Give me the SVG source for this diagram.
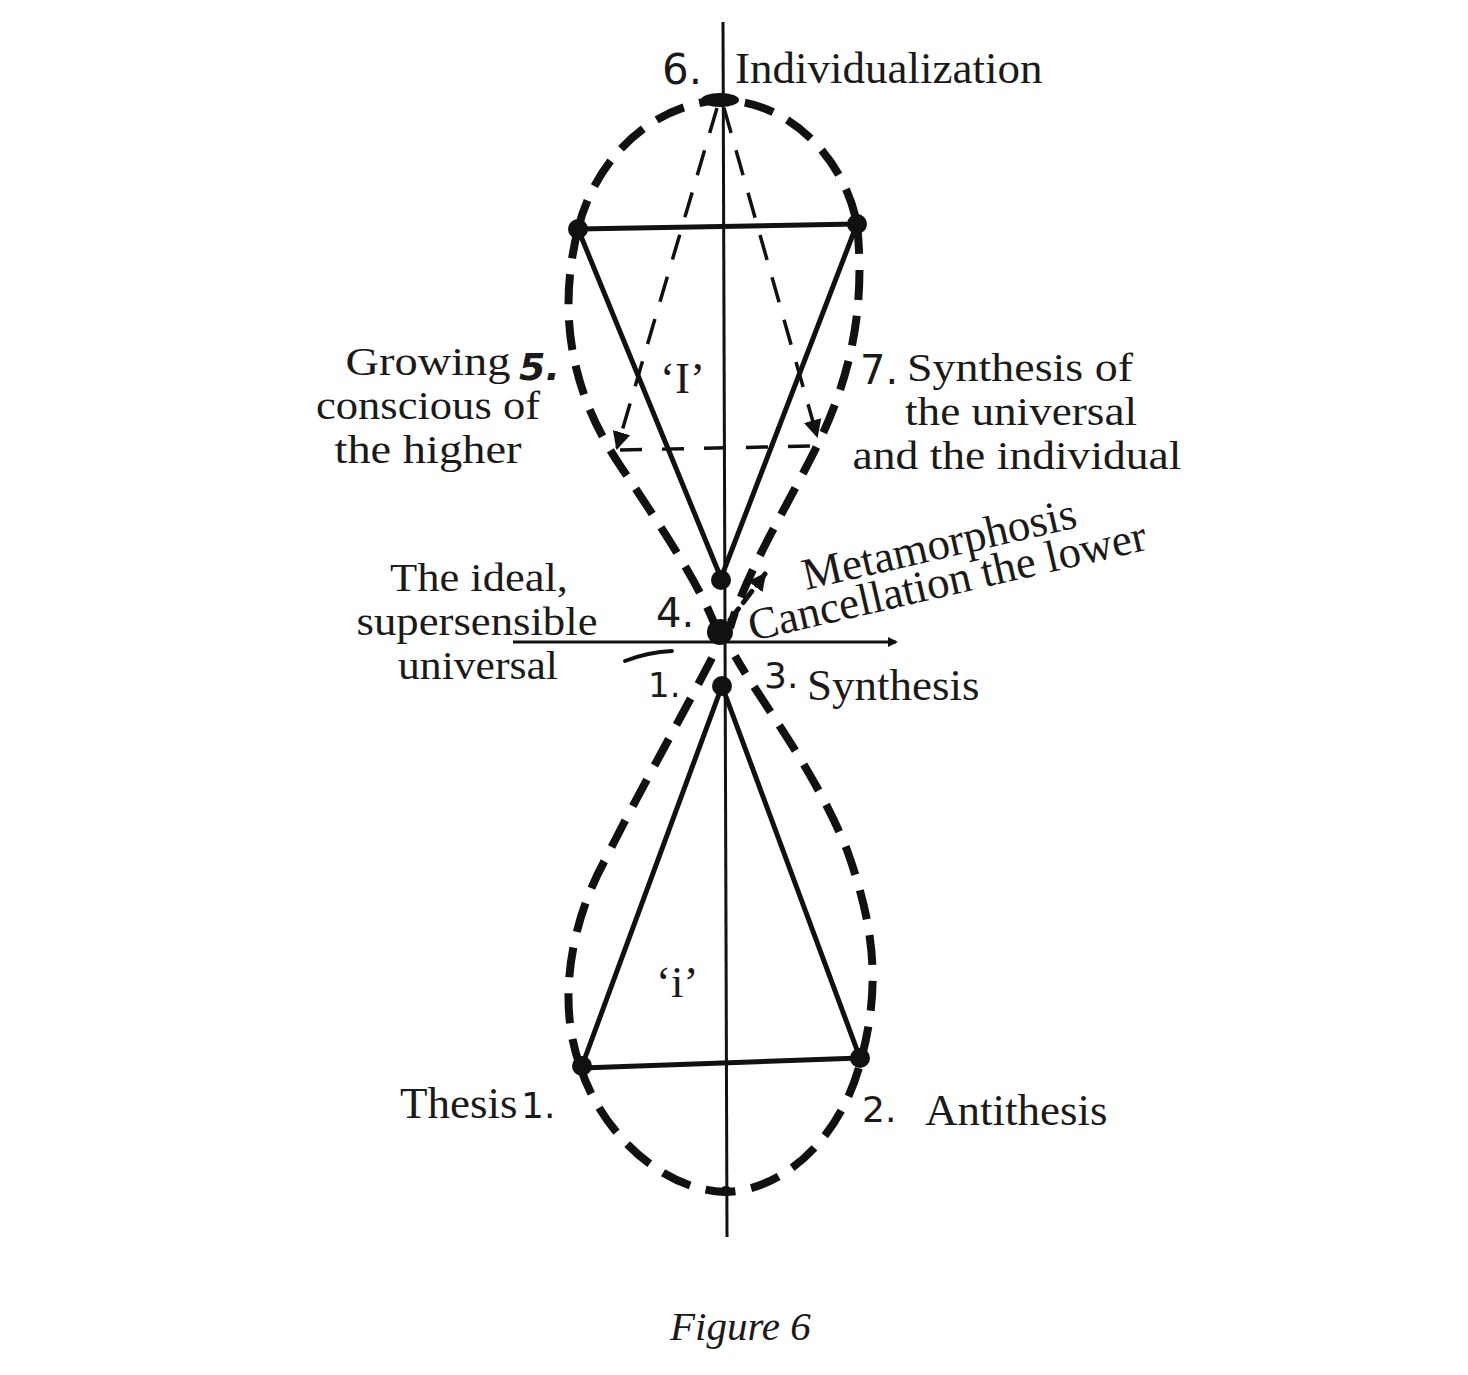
<svg xmlns="http://www.w3.org/2000/svg" width="1468" height="1375" viewBox="0 0 1468 1375">
<style>
.bg{fill:#fff}
.axis{stroke:#111;stroke-width:3;fill:none}
.solid{stroke:#111;stroke-width:5;fill:none;stroke-linecap:round}
.loop{stroke:#111;stroke-width:8;fill:none;stroke-dasharray:30 16}
.thin{stroke:#111;stroke-width:3.5;fill:none;stroke-dasharray:26 18}
.dot{fill:#111}
.t{font-family:"Liberation Serif","Times New Roman",serif;font-size:45px;fill:#1a1a1a}
.m{font-size:39.5px}
.c{text-anchor:middle}
.h{font-family:"DejaVu Sans","Liberation Sans",sans-serif;fill:#1a1a1a}
.fig{font-family:"Liberation Serif","Times New Roman",serif;font-size:41px;font-style:italic;fill:#1a1a1a}
</style>
<defs>
<marker id="ah" markerWidth="10" markerHeight="10" refX="8" refY="5" orient="auto" markerUnits="userSpaceOnUse">
<path d="M0,0 L10,5 L0,10 Z" fill="#111"/>
</marker>
<marker id="ahb" markerWidth="22" markerHeight="22" refX="16" refY="11" orient="auto" markerUnits="userSpaceOnUse">
<path d="M0,2 L18,11 L0,20 Z" fill="#111"/>
</marker>
</defs>
<rect class="bg" x="0" y="0" width="1468" height="1375"/>

<g id="connectors">
<line id="axis" class="axis" x1="723" y1="22" x2="727" y2="1237"/>
<line id="horizontal" class="axis" x1="513" y1="642" x2="896" y2="642" marker-end="url(#ah)"/>
<!-- upper triangle -->
<line class="solid" x1="578" y1="229" x2="857" y2="224"/>
<line class="solid" x1="578" y1="229" x2="721" y2="578"/>
<line class="solid" x1="857" y1="224" x2="721" y2="578"/>
<!-- lower triangle -->
<line class="solid" x1="582" y1="1068" x2="860" y2="1058"/>
<line class="solid" x1="722" y1="686" x2="582" y2="1066"/>
<line class="solid" x1="722" y1="686" x2="860" y2="1058"/>
<!-- upper loop -->
<path class="loop" d="M578,229 C595,160 650,105 720,100 C790,100 845,160 857,224"/>
<path class="loop" d="M578,229 C558,310 568,390 623,470 C660,525 700,585 716,628"/>
<path class="loop" d="M857,224 C866,310 850,380 815,450 C785,510 745,575 730,628"/>
<!-- lower loop -->
<path class="loop" d="M712,658 C680,720 640,790 605,860 C572,920 556,1000 580,1066"/>
<path class="loop" d="M580,1066 C600,1130 660,1190 725,1192 C790,1190 845,1130 862,1056"/>
<path class="loop" d="M862,1056 C882,980 872,920 847,850 C815,770 760,700 735,656"/>
<!-- thin dashed arrows from 6 -->
<line class="thin" x1="717" y1="108" x2="617" y2="448" marker-end="url(#ahb)"/>
<line class="thin" x1="724" y1="108" x2="817" y2="436" marker-end="url(#ahb)"/>
<line class="thin" x1="620" y1="450" x2="812" y2="446" style="stroke-dasharray:22 20"/>
<!-- metamorphosis arrow -->
<line class="solid" x1="730" y1="620" x2="765" y2="574" style="stroke-dasharray:14 8" marker-end="url(#ahb)"/>
<!-- small stroke -->
<path class="solid" d="M625,661 Q648,652 672,651" style="stroke-width:4"/>
</g>

<g id="node6">
<ellipse class="dot" cx="720" cy="100" rx="19" ry="7"/>
<text class="h" x="662" y="84" font-size="42">6.</text>
<text class="t" x="735" y="83">Individualization</text>
</g>
<g id="vertexUL"><circle class="dot" cx="578" cy="229" r="10"/></g>
<g id="vertexUR"><circle class="dot" cx="857" cy="224" r="10"/></g>
<g id="node5">
<text class="t m c" x="428" y="375" textLength="165" lengthAdjust="spacingAndGlyphs">Growing</text>
<text class="t m c" x="428" y="419" textLength="224" lengthAdjust="spacingAndGlyphs">conscious of</text>
<text class="t m c" x="428" y="463" textLength="187" lengthAdjust="spacingAndGlyphs">the higher</text>
<text class="h" x="519" y="380" font-size="38" font-weight="bold" font-style="italic">5.</text>
</g>
<g id="labelI"><text class="t" x="660" y="393" font-size="42">‘I’</text></g>
<g id="node7">
<text class="h" x="860" y="384" font-size="40">7.</text>
<text class="t m c" x="1020" y="381" textLength="226" lengthAdjust="spacingAndGlyphs">Synthesis of</text>
<text class="t m c" x="1021" y="425" textLength="232" lengthAdjust="spacingAndGlyphs">the universal</text>
<text class="t m c" x="1017" y="469" textLength="329" lengthAdjust="spacingAndGlyphs">and the individual</text>
</g>
<g id="node4">
<circle class="dot" cx="721" cy="580" r="10"/>
<circle class="dot" cx="720" cy="632" r="13"/>
<text class="h" x="656" y="627" font-size="40">4.</text>
<text class="t m c" x="479" y="591" textLength="178" lengthAdjust="spacingAndGlyphs">The ideal,</text>
<text class="t m c" x="477" y="635" textLength="241" lengthAdjust="spacingAndGlyphs">supersensible</text>
<text class="t m c" x="478" y="679" textLength="160" lengthAdjust="spacingAndGlyphs">universal</text>
</g>
<g id="metamorphosis">
<text class="t" transform="translate(806,590) rotate(-13)">Metamorphosis</text>
<text class="t" transform="translate(752,641) rotate(-13)">Cancellation the lower</text>
</g>
<g id="node3">
<circle class="dot" cx="722" cy="686" r="10"/>
<text class="h" x="648" y="697" font-size="34">1.</text>
<text class="h" x="764" y="688" font-size="36">3.</text>
<text class="t" x="807" y="700">Synthesis</text>
</g>
<g id="labeli"><text class="t" x="656" y="997" font-size="42">‘i’</text></g>
<g id="node1">
<circle class="dot" cx="582" cy="1066" r="10"/>
<text class="t" x="400" y="1118" font-size="43">Thesis</text>
<text class="h" x="521" y="1118" font-size="36">1.</text>
</g>
<g id="node2">
<circle class="dot" cx="860" cy="1058" r="10"/>
<text class="h" x="862" y="1122" font-size="36">2.</text>
<text class="t" x="925" y="1125">Antithesis</text>
</g>
<g id="bottom"><ellipse class="dot" cx="726" cy="1191" rx="6" ry="5"/></g>
<g id="caption"><text class="fig" x="670" y="1340">Figure 6</text></g>
</svg>
